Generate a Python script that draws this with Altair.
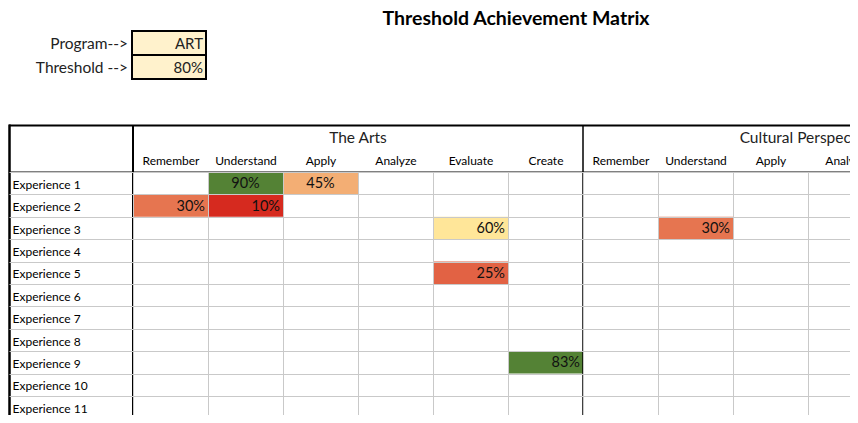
import altair as alt
import pandas as pd

# ---------------- data ----------------
TITLE = "Threshold Achievement Matrix"
PARAM_LABELS = ["Program-->", "Threshold -->"]
PARAM_VALUES = ["ART", "80%"]
THRESHOLD = 0.80

GROUPS = ["The Arts", "Cultural Perspective"]
LEVELS = ["Remember", "Understand", "Apply", "Analyze", "Evaluate", "Create"]
ROWS = ["Experience 1", "Experience 2", "Experience 3", "Experience 4",
        "Experience 5", "Experience 6", "Experience 7", "Experience 8",
        "Experience 9", "Experience 10", "Experience 11"]

CELL_ROWS = ["Experience 1", "Experience 1", "Experience 2", "Experience 2",
             "Experience 3", "Experience 3", "Experience 5", "Experience 9"]
CELL_GROUPS = ["The Arts", "The Arts", "The Arts", "The Arts",
               "The Arts", "Cultural Perspective", "The Arts", "The Arts"]
CELL_LEVELS = ["Understand", "Apply", "Remember", "Understand",
               "Evaluate", "Understand", "Evaluate", "Create"]
CELL_VALUES = [0.90, 0.45, 0.30, 0.10, 0.60, 0.30, 0.25, 0.83]
CELL_CENTERED = [True, True, False, False, False, False, False, False]

# ---------------- layout / style ----------------
FONT = "Lato"
PAD_L, PAD_T = 125, 164
W, H = 717, 243
COL_W, ROW_H = 75, 22.4
GRID = "#C9C9C9"

col_keys = [f"{g}|{l}" for g in GROUPS for l in LEVELS]
label_expr = "split(datum.label, '|')[1]"

x_scale = alt.Scale(domain=col_keys, range=[0, COL_W * len(col_keys)], paddingInner=0, paddingOuter=0)
y_scale = alt.Scale(domain=ROWS, range=[0, ROW_H * len(ROWS)], paddingInner=0, paddingOuter=0)

cells = pd.DataFrame({
    "row": CELL_ROWS,
    "key": [f"{g}|{l}" for g, l in zip(CELL_GROUPS, CELL_LEVELS)],
    "value": CELL_VALUES,
    "centered": CELL_CENTERED,
})
grid_df = pd.DataFrame({"row": ROWS, "key": [col_keys[0]] * len(ROWS)})
groups_df = pd.DataFrame({
    "group": GROUPS,
    "mid": [f"{g}|{LEVELS[3]}" for g in GROUPS],
    "start": [f"{g}|{LEVELS[0]}" for g in GROUPS],
})
one = pd.DataFrame({"t": [TITLE]})
info = pd.DataFrame({"param": PARAM_LABELS, "val": PARAM_VALUES})

# base grid layer carrying the axes
base = alt.Chart(grid_df).mark_rect(opacity=0).encode(
    x=alt.X("key:N", scale=x_scale, title=None,
            axis=alt.Axis(orient="top", tickBand="extent", ticks=False, domain=False,
                          grid=True, gridColor=GRID, gridWidth=1,
                          labelExpr=label_expr, labelAngle=0, labelPadding=5,
                          labelFont=FONT, labelFontSize=12, labelColor="#000")),
    y=alt.Y("row:N", scale=y_scale, title=None,
            axis=alt.Axis(orient="left", tickBand="extent", ticks=True, tickSize=124,
                          tickColor=GRID, tickWidth=1, domain=False,
                          grid=True, gridColor=GRID, gridWidth=1,
                          labelAlign="left", labelPadding=-3, labelOffset=1,
                          labelFont=FONT, labelFontSize=12, labelColor="#000")),
)

color_enc = alt.condition(
    f"datum.value >= {THRESHOLD}",
    alt.value("#548235"),
    alt.Color("value:Q", legend=None,
              scale=alt.Scale(domain=[0.1, 0.6], range=["#D62A1F", "#FFE699"],
                              interpolate="rgb", clamp=True)),
)

rects = alt.Chart(cells).mark_rect().encode(
    x=alt.X("key:N", scale=x_scale),
    y=alt.Y("row:N", scale=y_scale),
    color=color_enc,
)

txt_right = alt.Chart(cells).transform_filter("!datum.centered").mark_text(
    align="right", baseline="middle", dx=-3, dy=1, font=FONT, fontSize=14.5, color="#111"
).encode(
    x=alt.X("key:N", scale=x_scale, bandPosition=1),
    y=alt.Y("row:N", scale=y_scale, bandPosition=0.5),
    text=alt.Text("value:Q", format=".0%"),
)
txt_center = alt.Chart(cells).transform_filter("datum.centered").mark_text(
    align="center", baseline="middle", dy=1, font=FONT, fontSize=14.5, color="#111"
).encode(
    x=alt.X("key:N", scale=x_scale, bandPosition=0.5),
    y=alt.Y("row:N", scale=y_scale, bandPosition=0.5),
    text=alt.Text("value:Q", format=".0%"),
)

group_titles = alt.Chart(groups_df).mark_text(
    align="center", baseline="middle", font=FONT, fontSize=15.5, color="#222"
).encode(
    x=alt.X("mid:N", scale=x_scale, bandPosition=0),
    y=alt.value(-34),
    text="group:N",
)
group_sep = alt.Chart(groups_df).transform_filter(f"datum.group != '{GROUPS[0]}'").mark_rule(
    color="#000", strokeWidth=1.5
).encode(
    x=alt.X("start:N", scale=x_scale, bandPosition=0),
    y=alt.value(-47), y2=alt.value(H),
)

border_top = alt.Chart(one).mark_rule(color="#000", strokeWidth=2).encode(
    x=alt.value(-124), x2=alt.value(W + 10), y=alt.value(-46.5))
border_left = alt.Chart(one).mark_rule(color="#000", strokeWidth=2.5).encode(
    x=alt.value(-123.5), y=alt.value(-47.5), y2=alt.value(H))
label_sep = alt.Chart(one).mark_rule(color="#000", strokeWidth=2).encode(
    x=alt.value(0), y=alt.value(-47), y2=alt.value(H))
header_line = alt.Chart(one).mark_rule(color="#000", strokeWidth=1).encode(
    x=alt.value(-124), x2=alt.value(W + 10), y=alt.value(0))

title = alt.Chart(one).mark_text(
    align="center", baseline="alphabetic", font=FONT, fontSize=19.5, fontWeight="bold", color="#000"
).encode(x=alt.value(383), y=alt.value(-147), text="t:N")

main = alt.layer(base, rects, txt_right, txt_center, group_titles, group_sep,
                 border_top, border_left, label_sep, header_line, title)

info_scale = alt.Scale(domain=PARAM_LABELS, range=[-141, -93], paddingInner=0, paddingOuter=0)
info_rect = alt.Chart(info).mark_rect(fill="#FFF2CC", stroke="#000", strokeWidth=2).encode(
    x=alt.value(-1), x2=alt.value(73), y=alt.Y("param:N", scale=info_scale, axis=None))
info_lbl = alt.Chart(info).mark_text(
    align="right", baseline="middle", font=FONT, fontSize=15.5, color="#222", dy=1
).encode(x=alt.value(-5),
         y=alt.Y("param:N", scale=info_scale, axis=None, bandPosition=0.5),
         text="param:N")
info_val = alt.Chart(info).mark_text(
    align="right", baseline="middle", font=FONT, fontSize=15, color="#222", dy=1
).encode(x=alt.value(70),
         y=alt.Y("param:N", scale=info_scale, axis=None, bandPosition=0.5),
         text="val:N")
info_layer = alt.layer(info_rect, info_lbl, info_val)

chart = alt.layer(main, info_layer).resolve_scale(y="independent").properties(
    width=W, height=H,
    autosize=alt.AutoSizeParams(type="none"),
    padding={"left": PAD_L, "top": PAD_T, "right": 0, "bottom": 0},
).configure_view(stroke=None)

chart.save("out.html", embed_options={"renderer": "svg", "actions": False})
